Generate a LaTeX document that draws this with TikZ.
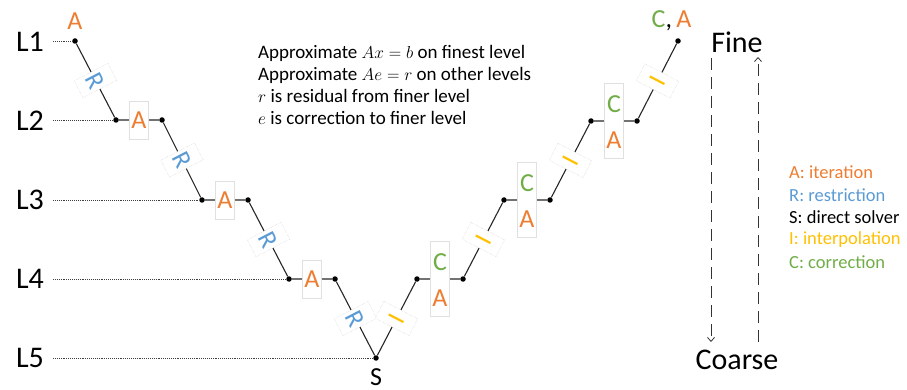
\documentclass[tikz,border=0pt]{standalone}
\usepackage{fontspec}
\setmainfont{Carlito}
\usetikzlibrary{arrows.meta}
\definecolor{cA}{HTML}{ED7D31}
\definecolor{cR}{HTML}{5B9BD5}
\definecolor{cI}{HTML}{FFC000}
\definecolor{cC}{HTML}{70AD47}
\begin{document}
\begin{tikzpicture}[x=1pt,y=-1pt,
  dot/.style={circle,fill=black,inner sep=0pt,minimum size=5.5pt},
  seg/.style={draw=black!85,line width=1.1pt},
  lvl/.style={densely dotted,line width=0.9pt,black!75},
  big/.style={font=\fontsize{26}{26}\selectfont,inner sep=0pt},
  abox/.style={big,draw=black!12,fill=white,inner sep=0pt,minimum width=19pt,minimum height=38pt,text=cA},
  rbox/.style={big,draw=black!22,densely dotted,fill=white,inner sep=0pt,minimum width=19pt,minimum height=38pt,text=cR},
  ibox/.style={big,draw=black!22,densely dotted,fill=white,inner sep=0pt,minimum width=19pt,minimum height=38pt,text=cI},
  cabox/.style={draw=black!12,fill=white,inner sep=0pt,minimum width=19pt,minimum height=75pt},
  lvllab/.style={font=\fontsize{30}{30}\selectfont,inner sep=0pt},
  fc/.style={font=\fontsize{30}{30}\selectfont,inner sep=0pt},
  body/.style={font=\fontsize{19}{22}\selectfont,anchor=base west,inner sep=0pt},
  leg/.style={font=\fontsize{18.5}{22}\selectfont,anchor=west,inner sep=0pt},
  darr/.style={dash pattern=on 12pt off 7pt,line width=0.8pt,black!80,-{Straight Barb[length=4pt,width=7pt]}}
]
\useasboundingbox (0,0) rectangle (907,390);

% level labels
\node[lvllab] (L1) at (30,42) {L1};
\node[lvllab] (L2) at (30,121) {L2};
\node[lvllab] (L3) at (30,200) {L3};
\node[lvllab] (L4) at (30,279) {L4};
\node[lvllab] (L5) at (30,358) {L5};

% points
\node[dot] (p1) at (75,41) {};
\node[dot] (p2) at (116,120) {};
\node[dot] (p3) at (162,120) {};
\node[dot] (p4) at (202,200) {};
\node[dot] (p5) at (248,200) {};
\node[dot] (p6) at (289,279) {};
\node[dot] (p7) at (335,279) {};
\node[dot] (s) at (376,358) {};
\node[dot] (q7) at (417,279) {};
\node[dot] (q6) at (463,279) {};
\node[dot] (q5) at (504,200) {};
\node[dot] (q4) at (550,200) {};
\node[dot] (q3) at (591,121) {};
\node[dot] (q2) at (637,121) {};
\node[dot] (q1) at (678,41) {};

% dotted level lines
\coordinate (d1) at (53,41);
\coordinate (d2) at (53,120);
\coordinate (d3) at (53,200);
\coordinate (d4) at (53,279);
\coordinate (d5) at (53,358);
\draw[lvl] (d1) -- (p1);
\draw[lvl] (d2) -- (p2);
\draw[lvl] (d3) -- (p4);
\draw[lvl] (d4) -- (p6);
\draw[lvl] (d5) -- (s);

% V path
\draw[seg] (p1)--(p2)--(p3)--(p4)--(p5)--(p6)--(p7)--(s)--(q7)--(q6)--(q5)--(q4)--(q3)--(q2)--(q1);

% A boxes (descending)
\node[abox] (a2) at (139,120) {A};
\node[abox] (a3) at (225,200) {A};
\node[abox] (a4) at (312,279) {A};

% R boxes
\node[rbox,rotate=-62.6] (r1) at (95.5,80.5) {R};
\node[rbox,rotate=-62.6] (r2) at (182,160) {R};
\node[rbox,rotate=-62.6] (r3) at (268.5,239.5) {R};
\node[rbox,rotate=-62.6] (r4) at (355.5,318.5) {R};

% I boxes
\node[ibox,rotate=62.6] (i4) at (396.5,318.5) {I};
\node[ibox,rotate=62.6] (i3) at (483.5,239.5) {I};
\node[ibox,rotate=62.6] (i2) at (570.5,160.5) {I};
\node[ibox,rotate=62.6] (i1) at (657.5,81) {I};

% C/A boxes (ascending)
\node[cabox] (ca4) at (440,279) {};
\node[big,text=cC] (c4) at (440,262) {C};
\node[big,text=cA] (aa4) at (440,298) {A};
\node[cabox] (ca3) at (527,200) {};
\node[big,text=cC] (c3) at (527,183) {C};
\node[big,text=cA] (aa3) at (527,219) {A};
\node[cabox] (ca2) at (614,121) {};
\node[big,text=cC] (c2) at (614,104) {C};
\node[big,text=cA] (aa2) at (614,140) {A};

% top / bottom labels
\node[big,text=cA] (atop) at (75,21) {A};
\node[big] (ctop) at (671.5,21) {\textcolor{cC}{C},\,\textcolor{cA}{A}};
\node[big,text=black] (slab) at (376,377.5) {S};

% text block
\node[body] (t1) at (258,59) {Approximate $Ax=b$ on finest level};
\node[body] (t2) at (258,81) {Approximate $Ae=r$ on other levels};
\node[body] (t3) at (258,103) {$r$ is residual from finer level};
\node[body] (t4) at (258,125) {$e$ is correction to finer level};

% Fine / Coarse
\node[fc] (fine) at (737,42) {Fine};
\node[fc] (coarse) at (737,360) {Coarse};
\coordinate (ld1) at (711,58);
\coordinate (ld2) at (711,342);
\coordinate (ru1) at (758,342);
\coordinate (ru2) at (758,57);
\draw[darr] (ld1) -- (ld2);
\draw[darr] (ru1) -- (ru2);

% legend
\node[leg,text=cA] (lg1) at (789,172) {A: iteration};
\node[leg,text=cR] (lg2) at (789,195) {R: restriction};
\node[leg,text=black] (lg3) at (789,217) {S: direct solver};
\node[leg,text=cI] (lg4) at (789,240) {I: interpolation};
\node[leg,text=cC] (lg5) at (789,262) {C: correction};
\end{tikzpicture}
\end{document}
